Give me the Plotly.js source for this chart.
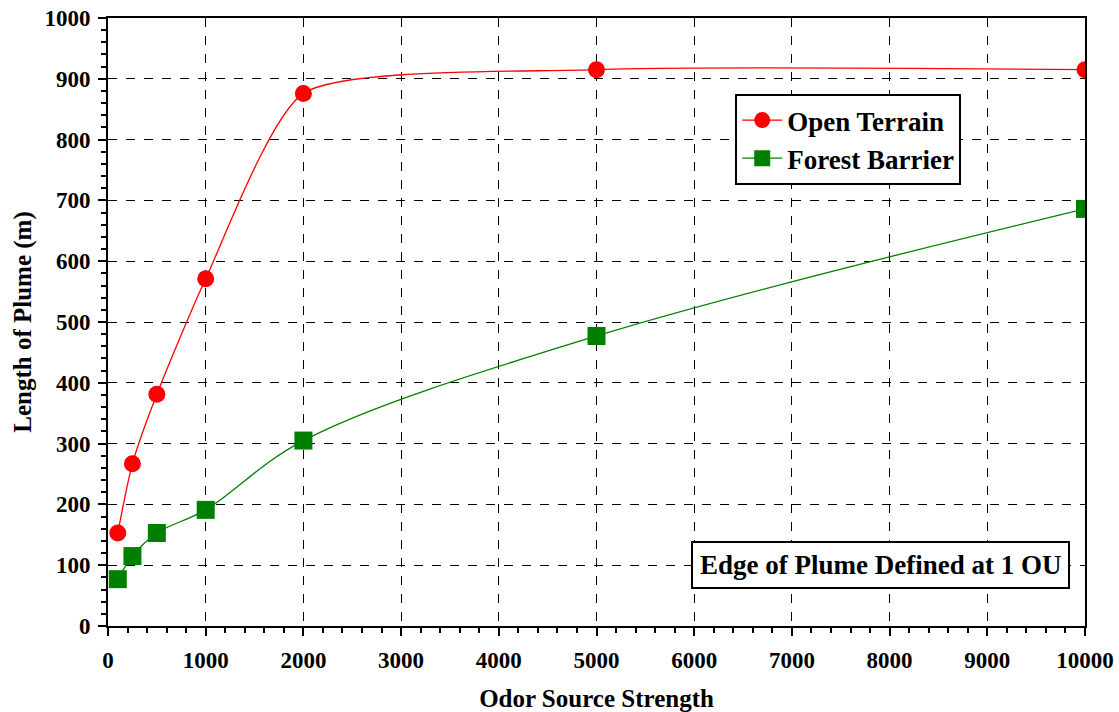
<!DOCTYPE html>
<html>
<head>
<meta charset="utf-8">
<script src="https://cdn.plot.ly/plotly-3.0.1.min.js"></script>
<style>body{margin:0;background:#fff}#chart{width:1119px;height:712px}</style>
</head>
<body>
<div id="chart"></div>
<script>
const sourceStrength = [100, 250, 500, 1000, 2000, 5000, 10000];
const openTerrain = [153, 267, 381, 571, 876, 915, 915];
const forestBarrier = [77, 115, 153, 191, 305, 477, 686];
const seriesNames = ["Open Terrain", "Forest Barrier"];
const noteText = "Edge of Plume Defined at 1 OU";

const font = "Liberation Serif, Times New Roman, serif";

const traces = [
  {
    x: sourceStrength, y: openTerrain, name: seriesNames[0],
    mode: "lines+markers", type: "scatter",
    line: {color: "#ff0000", width: 1.3, shape: "spline", smoothing: 0.6},
    marker: {color: "#ff0000", symbol: "circle", size: 17}
  },
  {
    x: sourceStrength, y: forestBarrier, name: seriesNames[1],
    mode: "lines+markers", type: "scatter",
    line: {color: "#008000", width: 1.3, shape: "spline", smoothing: 1},
    marker: {color: "#008000", symbol: "square", size: 18}
  }
];

const axisCommon = {
  showline: true, linecolor: "#000", linewidth: 2, mirror: true,
  showgrid: true, gridcolor: "#000", gridwidth: 1, griddash: "dash",
  zeroline: false, ticks: "outside", ticklen: 8, tickwidth: 2, tickcolor: "#000",
  tickformat: "d",
  tickfont: {family: font, size: 23, color: "#000", weight: "bold"}
};

const layout = {
  width: 1119, height: 712,
  margin: {l: 108, r: 34, t: 18, b: 86},
  paper_bgcolor: "#fff", plot_bgcolor: "#fff",
  showlegend: true,
  legend: {
    x: 0.642, y: 0.875, xanchor: "left", yanchor: "top",
    bgcolor: "#fff", bordercolor: "#000", borderwidth: 2,
    font: {family: font, size: 27, color: "#000", weight: "bold"},
    itemwidth: 40, tracegroupgap: 0
  },
  xaxis: Object.assign({}, axisCommon, {
    range: [0, 10000], tick0: 0, dtick: 1000, ticklabelstandoff: 4,
    minor: {dtick: 200, ticks: "outside", ticklen: 5, tickwidth: 1.5, tickcolor: "#000", showgrid: false},
    title: {text: "Odor Source Strength", font: {family: font, size: 25, color: "#000", weight: "bold"}, standoff: 18}
  }),
  yaxis: Object.assign({}, axisCommon, {
    range: [0, 1000], tick0: 0, dtick: 100, ticklabelstandoff: 3,
    minor: {dtick: 20, ticks: "outside", ticklen: 5, tickwidth: 1.5, tickcolor: "#000", showgrid: false},
    title: {text: "Length of Plume (m)", font: {family: font, size: 25, color: "#000", weight: "bold"}, standoff: 6}
  }),
  annotations: [{
    xref: "paper", yref: "paper", x: 0.985, y: 0.1, xanchor: "right", yanchor: "middle",
    text: noteText, showarrow: false,
    font: {family: font, size: 27, color: "#000", weight: "bold"},
    bordercolor: "#000", borderwidth: 2, borderpad: 7, bgcolor: "#fff"
  }]
};

Plotly.newPlot("chart", traces, layout, {displayModeBar: false});
</script>
</body>
</html>
